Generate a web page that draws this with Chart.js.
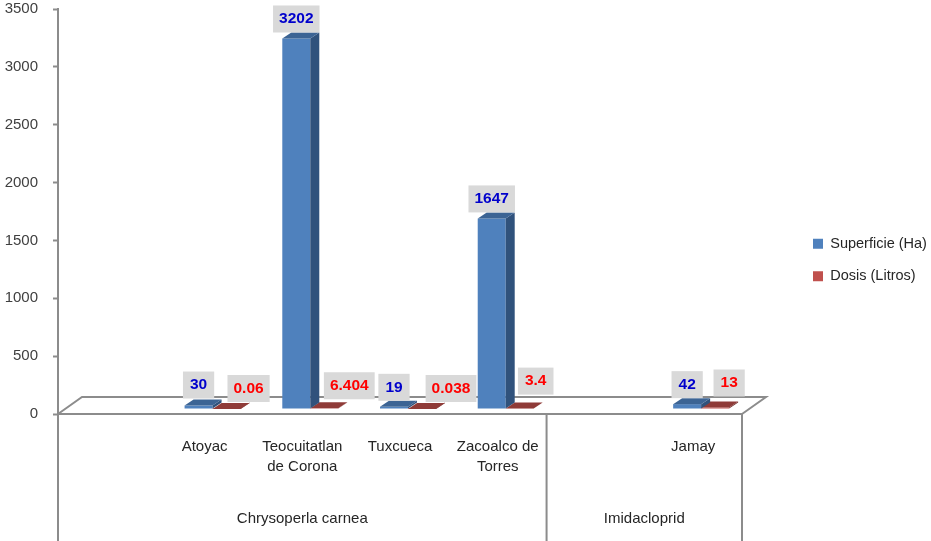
<!DOCTYPE html>
<html>
<head>
<meta charset="utf-8">
<title>Superficie y dosis</title>
<script src="https://cdn.jsdelivr.net/npm/chart.js@4/dist/chart.umd.min.js"></script>
<style>
    html, body { margin: 0; padding: 0; background: #ffffff; }
    canvas { display: block; }
</style>
</head>
<body>
<canvas id="productChart" width="931" height="541"></canvas>
<script>
const categories = ['', 'Atoyac', ['Teocuitatlan', 'de Corona'], 'Tuxcueca', ['Zacoalco de', 'Torres'], '', 'Jamay'];
const superficie = [null, 30, 3202, 19, 1647, null, 42];
const dosis = [null, 0.06, 6.404, 0.038, 3.4, null, 13];
const groupNames = ['Chrysoperla carnea', 'Imidacloprid'];
const groupStarts = [0, 5];
const groupEnds = [5, 7];
const yTicks = [0, 500, 1000, 1500, 2000, 2500, 3000, 3500];

const FONT = '"Liberation Sans", Arial, sans-serif';
const AXIS = '#8c8c8c';

// the bars sit in the middle of the floor, not on its front edge
const BAR_SHIFT = { x: 8, y: -5 };
const DEPTH = { x: 9, y: -6 };
const FLOOR = { x: 24, y: -17 };

const faces = [
    { side: '#30527c', top: '#3c6494', text: '#0000cc' },
    { side: '#6f2c2a', top: '#8f3b38', text: '#ff0000' }
];

// the labels were dragged by hand in the original, [dx, dy] from the default place
const labelNudge = [
    { 1: [0, -1], 2: [0, 0], 3: [0, 0], 4: [0, 0], 6: [0, 0] },
    { 1: [22, -1], 2: [25, -3], 3: [29, -1], 4: [16, -8], 6: [14, -5] }
];

function polygon(ctx, points, fill) {
    ctx.beginPath();
    points.forEach((p, i) => i ? ctx.lineTo(p[0], p[1]) : ctx.moveTo(p[0], p[1]));
    ctx.closePath();
    ctx.fillStyle = fill;
    ctx.fill();
}

const floorPlugin = {
    id: 'floor',
    beforeDatasetsDraw(chart) {
        const { ctx, chartArea: a, scales: { x } } = chart;
        const edge = (i) => x.left + x.width * i / categories.length;

        ctx.save();
        ctx.strokeStyle = AXIS;
        ctx.lineWidth = 2;
        ctx.beginPath();
        ctx.moveTo(a.left, a.bottom);
        ctx.lineTo(a.left + FLOOR.x, a.bottom + FLOOR.y);
        ctx.lineTo(a.right + FLOOR.x, a.bottom + FLOOR.y);
        ctx.lineTo(a.right, a.bottom);
        ctx.stroke();

        // group separators under the axis
        ctx.beginPath();
        [0, ...groupEnds].forEach((i) => {
            ctx.moveTo(edge(i), a.bottom);
            ctx.lineTo(edge(i), chart.height);
        });
        ctx.stroke();

        ctx.fillStyle = '#262626';
        ctx.font = '15px ' + FONT;
        ctx.textAlign = 'center';
        ctx.textBaseline = 'middle';
        groupNames.forEach((name, i) => {
            ctx.fillText(name, (edge(groupStarts[i]) + edge(groupEnds[i])) / 2, 519);
        });
        ctx.restore();
    },
    beforeDatasetDraw(chart) {
        chart.ctx.save();
        chart.ctx.translate(BAR_SHIFT.x, BAR_SHIFT.y);
    },
    afterDatasetDraw(chart, args) {
        const ctx = chart.ctx;
        const face = faces[args.index];
        args.meta.data.forEach((bar, i) => {
            if (chart.data.datasets[args.index].data[i] === null) return;
            const { x, y, base, width } = bar.getProps(['x', 'y', 'base', 'width']);
            const l = x - width / 2;
            const r = x + width / 2;
            polygon(ctx, [[r, y], [r + DEPTH.x, y + DEPTH.y], [r + DEPTH.x, base + DEPTH.y], [r, base]], face.side);
            polygon(ctx, [[l, y], [l + DEPTH.x, y + DEPTH.y], [r + DEPTH.x, y + DEPTH.y], [r, y]], face.top);
        });
        ctx.restore();
    },
    afterDatasetsDraw(chart) {
        const ctx = chart.ctx;
        ctx.save();
        ctx.font = 'bold 15.5px ' + FONT;
        ctx.textAlign = 'center';
        ctx.textBaseline = 'middle';
        chart.data.datasets.forEach((ds, d) => {
            chart.getDatasetMeta(d).data.forEach((bar, i) => {
                if (ds.data[i] === null) return;
                const text = String(ds.data[i]);
                const nudge = labelNudge[d][i];
                const w = ctx.measureText(text).width + (text.length > 3 ? 12 : 14);
                const h = 27;
                const cx = bar.x + BAR_SHIFT.x + nudge[0];
                const bottom = bar.y + BAR_SHIFT.y + DEPTH.y + nudge[1];
                ctx.fillStyle = '#d9d9d9';
                ctx.fillRect(cx - w / 2, bottom - h, w, h);
                ctx.fillStyle = faces[d].text;
                ctx.fillText(text, cx, bottom - h / 2);
            });
        });
        ctx.restore();
    },
    beforeLayout(chart) {
        // keep the plot the same width whatever the legend text measures
        const legend = chart.legend;
        if (!legend._fixedFit) {
            const fit = legend.fit;
            legend.fit = function () {
                fit.call(this);
                this.width = 189;
            };
            legend._fixedFit = true;
        }
    },
    afterLayout(chart) {
        chart.legend.left = 795;
        chart.legend.top = 0;
        chart.legend.bottom = 520;
    }
};

new Chart(document.getElementById('productChart'), {
    type: 'bar',
    data: {
        labels: categories,
        datasets: [
            {
                label: 'Superficie (Ha)',
                data: superficie,
                backgroundColor: '#4f81bd'
            },
            {
                label: 'Dosis (Litros)',
                data: dosis,
                backgroundColor: '#c0504d'
            }
        ]
    },
    options: {
        responsive: false,
        animation: false,
        categoryPercentage: 0.573,
        barPercentage: 1,
        layout: {
            padding: { top: 9, left: 0, right: 0, bottom: 0 }
        },
        scales: {
            x: {
                afterFit: (scale) => {
                    scale.height = 127;
                    scale.paddingLeft = 0;
                    scale.paddingRight = 0;
                },
                grid: { display: false },
                border: { color: AXIS, width: 2 },
                ticks: {
                    color: '#262626',
                    font: { family: FONT, size: 15, lineHeight: 1.33 },
                    padding: 15,
                    autoSkip: false,
                    maxRotation: 0
                }
            },
            y: {
                min: 0,
                max: 3500,
                afterFit: (scale) => {
                    scale.width = 58;
                    scale.paddingTop = 0;
                    scale.paddingBottom = 0;
                },
                afterBuildTicks: (scale) => { scale.ticks = yTicks.map((value) => ({ value })); },
                grid: { drawOnChartArea: false, color: AXIS, tickLength: 5, tickWidth: 2 },
                border: { color: AXIS, width: 2 },
                ticks: {
                    color: '#404040',
                    font: { family: FONT, size: 15 },
                    padding: 15,
                    callback: (value) => String(value)
                }
            }
        },
        plugins: {
            tooltip: { enabled: false },
            legend: {
                position: 'right',
                labels: {
                    color: '#262626',
                    font: { family: FONT, size: 14.5 },
                    boxWidth: 10,
                    boxHeight: 10,
                    padding: 18
                }
            }
        }
    },
    plugins: [floorPlugin]
});
</script>
</body>
</html>
